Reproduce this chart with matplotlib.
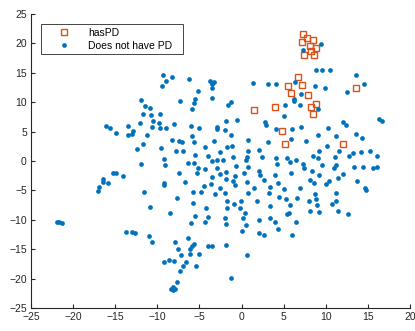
import numpy as np
import matplotlib
matplotlib.use("Agg")
import matplotlib.pyplot as plt

plt.rcParams['font.family'] = ['Liberation Sans', 'DejaVu Sans']

# t-SNE style embedding
has_pd = [
    (7.27, 21.55), (7.15, 20.24), (7.82, 20.82), (8.46, 20.53), (8.14, 19.56),
    (8.85, 19.11), (8.25, 18.71), (7.46, 17.92), (8.65, 17.92), (6.71, 14.22),
    (5.52, 12.74), (7.15, 12.91), (5.91, 11.62), (7.93, 11.16), (13.63, 12.47),
    (8.88, 9.74), (8.25, 9.23), (8.49, 7.97), (3.98, 9.23), (1.45, 8.65),
    (4.77, 5.14), (5.13, 2.93), (12.05, 2.81),
]

no_pd = [
    (-16.06, 6.00), (-15.58, 5.54), (-14.87, 4.74),
    (-21.95, -10.36), (-21.71, -10.42), (-21.32, -10.48), (-17.08, -5.03), (-16.92, -4.46),
    (-16.45, -2.98), (-16.41, -3.61), (-15.82, -3.66), (-15.23, -1.96), (-14.94, -2.07),
    (-9.36, 14.62), (-8.22, 14.22), (-9.00, 13.66), (-9.44, 12.69), (-7.30, 10.25),
    (-11.97, 10.31), (-11.46, 9.28), (-10.83, 9.06), (-11.70, 7.97), (-10.71, 7.80),
    (-9.71, 7.97), (-10.51, 6.78), (-9.83, 6.50), (-12.09, 6.39), (-8.02, 6.27),
    (-13.44, 6.00), (-10.59, 5.76), (-9.68, 5.54), (-8.97, 5.54), (-12.85, 5.08),
    (-12.97, 4.57), (-13.52, 4.40), (-11.19, 4.40), (-8.25, 3.49), (-7.46, 3.44),
    (-7.07, 3.20), (-11.70, 2.81), (-9.52, 2.25), (-12.41, 1.96), (-7.81, 1.74),
    (-6.98, 1.62), (-9.24, 0.31),
    (-6.27, 13.94), (-3.71, 13.66), (-3.23, 13.42), (-3.47, 13.15), (-3.47, 12.35),
    (-5.17, 11.84), (-3.50, 10.77), (-5.56, 10.48), (-5.68, 9.91), (-1.21, 10.02),
    (-1.60, 9.51), (-5.91, 8.89), (-0.57, 7.02), (-1.88, 6.85), (-6.03, 6.00),
    (-5.01, 5.54), (-2.91, 5.82), (-2.91, 5.37), (-2.00, 5.31), (-1.21, 4.40),
    (-5.84, 4.23), (-5.68, 3.27), (-3.23, 3.44), (0.74, 3.49), (0.81, 1.62),
    (-4.33, 2.36), (-2.52, 1.50), (-1.76, 2.36), (-1.09, 2.47), (-5.56, 0.99),
    (-3.98, 0.77), (-1.01, 0.65), (0.62, 0.60), (0.50, 0.09), (-2.87, 0.20),
    (-2.20, 0.20), (-3.47, -0.03),
    (7.34, 18.82), (1.33, 13.26), (3.15, 13.09), (4.10, 13.03), (6.32, 13.43),
    (8.73, 12.69), (7.03, 11.38), (6.20, 10.53), (6.27, 10.14), (5.20, 9.51),
    (6.91, 9.51), (5.05, 7.58), (2.75, 6.61), (2.87, 6.05), (4.10, 5.37),
    (6.00, 5.49), (7.10, 5.76), (5.88, 3.66), (7.70, 3.38), (3.11, 3.27),
    (2.04, 1.91), (2.47, 0.72), (4.13, 0.55), (5.44, 0.48), (8.53, 0.89), (6.47, 0.09),
    (9.40, 19.85), (8.88, 15.47), (9.56, 15.47), (10.47, 15.47), (13.60, 14.68),
    (14.58, 13.09), (9.92, 12.47), (12.49, 11.67), (9.05, 8.89), (16.29, 7.12),
    (16.65, 6.85), (12.09, 6.56), (12.41, 6.05), (10.31, 5.54), (9.12, 4.34),
    (11.19, 4.29), (13.60, 4.57), (14.35, 3.95), (10.13, 2.59), (9.24, 1.62),
    (11.58, 1.62), (13.21, 1.28), (14.23, 1.45), (15.30, 1.62), (12.73, 0.82),
    (9.12, 0.48), (11.10, 0.60), (16.13, 0.82),
    (-11.90, -0.43), (-9.09, -0.71), (-14.07, -2.53), (-7.42, -1.96), (-9.24, -3.66),
    (-9.24, -4.00), (-6.71, -3.58), (-11.54, -5.20), (-7.66, -6.22), (-10.87, -7.87),
    (-8.53, -8.83), (-13.72, -12.01), (-13.04, -12.13), (-12.65, -12.23), (-11.02, -12.74),
    (-10.67, -13.71), (-7.90, -13.83), (-7.51, -15.02), (-7.15, -15.88), (-8.65, -16.78),
    (-7.98, -16.90), (-9.24, -17.07), (-6.63, -17.07), (-6.98, -17.75), (-7.27, -18.60),
    (-7.62, -20.53), (-8.10, -21.38), (-7.90, -21.67), (-8.41, -21.67), (-8.10, -21.95),
    (-6.35, -0.37), (-5.68, -0.31), (-5.17, -1.11), (-4.37, -1.40), (-2.95, -1.11),
    (-0.65, -0.77), (0.81, -0.94), (-5.25, -2.01), (-2.59, -2.18), (-1.84, -1.91),
    (0.30, -1.96), (-3.47, -2.76), (-1.84, -2.98), (-0.81, -2.53), (-3.62, -3.83),
    (-4.42, -4.17), (-1.05, -3.44), (-0.74, -4.00), (0.65, -3.54), (-2.52, -4.51),
    (-5.80, -5.25), (-4.81, -5.31), (-3.11, -5.65), (-1.96, -5.37), (0.73, -5.48),
    (-5.80, -7.18), (-1.72, -6.84), (-0.89, -7.24), (-0.06, -6.84), (-4.25, -7.92),
    (-1.69, -8.04), (-0.18, -7.92), (0.45, -8.83), (-5.56, -9.40), (-3.98, -9.46),
    (-1.96, -9.63), (0.14, -9.74), (-6.00, -10.53), (-4.30, -10.36), (-1.88, -10.77),
    (0.50, -10.82), (0.02, -11.96), (-6.35, -13.08), (-5.64, -14.11), (-5.84, -14.51),
    (-4.01, -14.45), (-3.54, -14.45), (-1.81, -14.22), (-6.15, -15.02), (-6.15, -15.71),
    (-5.01, -15.76), (0.62, -15.98), (-5.44, -17.80), (-1.21, -19.79),
    (4.22, -0.54), (5.80, -0.20), (7.30, -0.48), (7.42, -1.11), (2.08, -1.62),
    (2.16, -2.42), (3.94, -2.35), (5.88, -1.96), (8.34, -1.67), (2.67, -3.15),
    (4.30, -3.66), (8.14, -3.21), (8.57, -3.66), (1.52, -4.57), (3.35, -4.46),
    (5.01, -4.80), (6.98, -4.57), (3.27, -5.37), (8.69, -5.65), (4.45, -6.10),
    (5.25, -6.44), (6.59, -6.27), (8.88, -6.39), (8.06, -6.84), (1.80, -6.78),
    (5.72, -7.41), (3.42, -7.70), (8.10, -8.55), (5.64, -8.89), (5.40, -9.06),
    (2.08, -9.97), (3.35, -9.74), (3.94, -10.36), (6.47, -10.31), (4.30, -11.50),
    (2.04, -12.23), (2.67, -12.64), (6.00, -12.52),
    (9.52, -0.71), (11.26, -0.65), (10.99, -1.22), (13.36, -0.99), (14.43, -0.94),
    (15.58, -1.16), (16.13, -0.99), (9.24, -2.30), (12.02, -2.18), (11.50, -2.86),
    (10.36, -3.32), (10.00, -3.95), (13.68, -3.44), (14.63, -4.57), (14.79, -4.97),
    (11.19, -5.37), (11.22, -6.78), (10.75, -7.36), (8.97, -7.53), (9.17, -8.60),
    (11.43, -8.43), (12.61, -8.94),
]

x_ticks = list(range(-25, 21, 5))
y_ticks = list(range(-25, 26, 5))

pd_x, pd_y = np.array(has_pd).T
no_x, no_y = np.array(no_pd).T

fig = plt.figure(figsize=(4.15, 3.31), dpi=100)
ax = fig.add_axes([0.0747, 0.0686, 0.9133, 0.89])

ax.plot(pd_x, pd_y, ls="none", marker="s", ms=5, mfc="none", mec="#D95319",
        mew=1.0, label="hasPD")
ax.plot(no_x, no_y, ls="none", marker="o", ms=3.4, mfc="#0072BD", mec="#0072BD",
        mew=0, label="Does not have PD")

ax.set_xlim(-25, 20)
ax.set_ylim(-25, 25)
ax.set_xticks(x_ticks)
ax.set_yticks(y_ticks)

for side in ("top", "right"):
    ax.spines[side].set_visible(False)
for side in ("left", "bottom"):
    ax.spines[side].set_color("#262626")
    ax.spines[side].set_linewidth(0.8)
ax.tick_params(direction="in", length=3, width=0.8, colors="#262626",
               labelsize=7.5, pad=3)

# legend stretched to the box width seen in the picture
leg = ax.legend(loc="upper left", bbox_to_anchor=(0.026, 0.5, 0.375, 0.465),
                mode="expand", fontsize=7.5, fancybox=False, framealpha=1,
                edgecolor="#262626", handlelength=3.8, handletextpad=0.4,
                borderpad=0.35, labelspacing=0.3, borderaxespad=0)
leg.get_frame().set_linewidth(0.6)

fig.savefig("out.png", dpi=100)
